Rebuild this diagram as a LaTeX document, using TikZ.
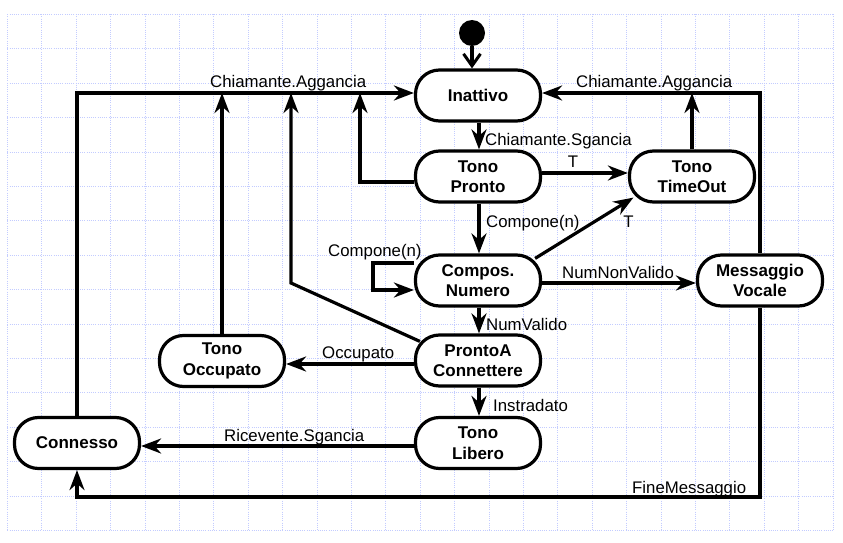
\documentclass[tikz,border=0pt]{standalone}
\usepackage{fontspec}
\setmainfont{Liberation Sans}
\usetikzlibrary{arrows.meta}
\definecolor{gridc}{RGB}{195,204,255}
\begin{document}
\begin{tikzpicture}[x=1pt,y=-1pt,
  state/.style={draw, line width=3.2pt, rounded corners=24pt, minimum width=125pt,
    minimum height=51pt, inner sep=0pt, align=center, fill=white,
    font=\fontsize{17}{20.5}\selectfont\bfseries},
  arr/.style={line width=3.2pt, line join=miter,
    -{Stealth[length=20pt,width=15pt,inset=6.5pt]}},
  lbl/.style={font=\fontsize{16.8}{19}\selectfont, inner sep=0pt},
  gridline/.style={draw=gridc, line width=0.8pt, dash pattern=on 1pt off 1.2pt}]
\useasboundingbox[fill=white] (0,0) rectangle (843,543);
% grid
\foreach \i in {0,...,24} \draw[gridline] ({7.3+\i*34.4},14.3) -- ({7.3+\i*34.4},530.3);
\foreach \j in {0,...,15} \draw[gridline] (7.3,{14.3+\j*34.4}) -- (832.9,{14.3+\j*34.4});

% nodes
\node[circle, fill=black, inner sep=0pt, minimum size=26pt] (init) at (472,33) {};
\node[state] (inattivo) at (478,95.5) {Inattivo};
\node[state] (pronto) at (478,176.5) {Tono\\Pronto};
\node[state] (timeout) at (692,176.5) {Tono\\TimeOut};
\node[state] (compos) at (478,280.5) {Compos.\\Numero};
\node[state] (msg) at (760,280.5) {Messaggio\\Vocale};
\node[state] (pac) at (478,360.5) {ProntoA\\Connettere};
\node[state] (occ) at (222,361) {Tono\\Occupato};
\node[state] (libero) at (478,443) {Tono\\Libero};
\node[state] (connesso) at (77,443) {Connesso};

\coordinate (topY) at (0,93);
\coordinate (botY) at (0,497);

% connectors
\draw[line width=3.2pt, -{Straight Barb[length=12pt,width=17pt,line width=3pt]}]
  (init) -- (init |- inattivo.north);
\draw[arr] ([xshift=1pt]inattivo.south) -- ([xshift=1pt]pronto.north);
\draw[arr] ([yshift=3.5pt]pronto.east) -- ([yshift=3.5pt]timeout.west);
\draw[arr] (timeout.north) -- (timeout.north |- topY);
\draw[arr] (msg.north) -- (msg.north |- topY) -- (inattivo.east |- topY);
\draw[arr] (msg.south) -- (msg.south |- botY) -- (connesso.south |- botY) -- (connesso.south);
\draw[arr] (connesso.north) -- (connesso.north |- topY) -- (inattivo.west |- topY);
\draw[arr] (occ.north) -- (occ.north |- topY);
\coordinate (bend) at (291,283);
\draw[arr] ([xshift=6pt,yshift=-8pt]pac.north west) -- (bend) -- (bend |- topY);
\coordinate (prL) at (360,182);
\draw[arr] ([yshift=-5.5pt]pronto.west) -- (prL) -- (prL |- topY);
\draw[arr] ([xshift=1pt]pronto.south) -- ([xshift=1pt]compos.north);
\draw[arr] ([xshift=-7pt,yshift=-5pt]compos.north east) -- ([xshift=5.5pt,yshift=6pt]timeout.south west);
\coordinate (loopL) at (373,263);
\draw[arr] ([yshift=17.5pt]compos.west) -- (loopL) -- (loopL |- 0,290) -- ([yshift=-9.5pt]compos.west);
\draw[arr] ([yshift=-2.5pt]compos.east) -- ([yshift=-2.5pt]msg.west);
\draw[arr] ([xshift=1pt]compos.south) -- ([xshift=1pt]pac.north);
\draw[arr] ([yshift=-3.5pt]pac.west) -- (occ.east |- 0,364);
\draw[arr] ([xshift=1pt]pac.south) -- ([xshift=1pt]libero.north);
\draw[arr] ([yshift=-3pt]libero.west) -- ([yshift=-3pt]connesso.east);

% labels
\node[lbl, anchor=base west] (lAggL) at (210,87) {Chiamante.Aggancia};
\node[lbl, anchor=base west] (lAggR) at (576,87) {Chiamante.Aggancia};
\node[lbl, anchor=base west] (lSg) at (485,145) {Chiamante.Sgancia};
\node[lbl, anchor=base] (lT1) at (573,167) {T};
\node[lbl, anchor=base west] (lComp1) at (486,227) {Compone(n)};
\node[lbl, anchor=base west] (lComp2) at (328,256) {Compone(n)};
\node[lbl, anchor=base] (lT2) at (628.5,227) {T};
\node[lbl, anchor=base west] (lNNV) at (562,278) {NumNonValido};
\node[lbl, anchor=base west] (lNV) at (486,330) {NumValido};
\node[lbl, anchor=base west] (lOcc) at (322,358) {Occupato};
\node[lbl, anchor=base west] (lInst) at (493,411) {Instradato};
\node[lbl, anchor=base west] (lRic) at (224,441) {Ricevente.Sgancia};
\node[lbl, anchor=base west] (lFine) at (632,493) {FineMessaggio};
\end{tikzpicture}
\end{document}
